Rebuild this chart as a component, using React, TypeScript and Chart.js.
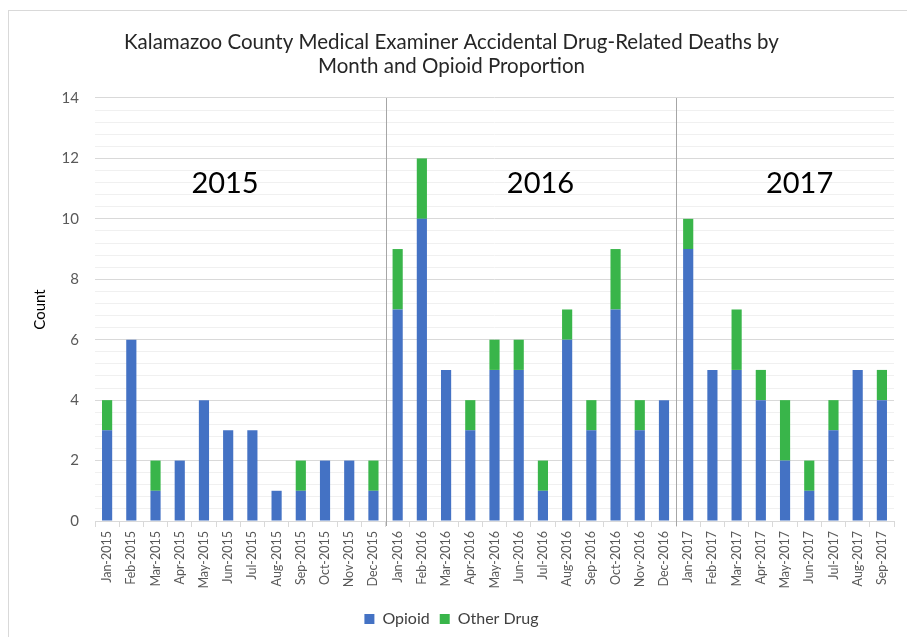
import React, { useEffect, useRef } from "react";
import { Chart, registerables } from "chart.js";

Chart.register(...registerables);

const months = [
  "Jan-2015", "Feb-2015", "Mar-2015", "Apr-2015", "May-2015", "Jun-2015",
  "Jul-2015", "Aug-2015", "Sep-2015", "Oct-2015", "Nov-2015", "Dec-2015",
  "Jan-2016", "Feb-2016", "Mar-2016", "Apr-2016", "May-2016", "Jun-2016",
  "Jul-2016", "Aug-2016", "Sep-2016", "Oct-2016", "Nov-2016", "Dec-2016",
  "Jan-2017", "Feb-2017", "Mar-2017", "Apr-2017", "May-2017", "Jun-2017",
  "Jul-2017", "Aug-2017", "Sep-2017",
];

const opioid = [
  3, 6, 1, 2, 4, 3, 3, 1, 1, 2, 2, 1,
  7, 10, 5, 3, 5, 5, 1, 6, 3, 7, 3, 4,
  9, 5, 5, 4, 2, 1, 3, 5, 4,
];

const otherDrug = [
  1, 0, 1, 0, 0, 0, 0, 0, 1, 0, 0, 1,
  2, 2, 0, 1, 1, 1, 1, 1, 1, 2, 1, 0,
  1, 0, 2, 1, 2, 1, 1, 0, 1,
];

const yearLabels = ["2015", "2016", "2017"];

const yTickLabels = ["0", "2", "4", "6", "8", "10", "12", "14"];

const FONT = "Lato, 'Open Sans', sans-serif";

const isMajor = (v: number) => Math.abs(v / 2 - Math.round(v / 2)) < 1e-6;

const overlayPlugin = {
  id: "yearOverlay",
  afterDatasetsDraw(chart: any, _args: any, opts: any) {
    const { ctx, chartArea, scales } = chart;
    const x = scales.x;
    const y = scales.y;
    ctx.save();
    ctx.strokeStyle = opts.lineColor;
    ctx.lineWidth = 1;
    for (let i = 1; i < months.length; i++) {
      if (months[i].slice(-4) !== months[i - 1].slice(-4)) {
        const px = Math.round((x.getPixelForValue(i - 1) + x.getPixelForValue(i)) / 2) + 0.5;
        ctx.beginPath();
        ctx.moveTo(px, chartArea.top);
        ctx.lineTo(px, chartArea.bottom + 5);
        ctx.stroke();
      }
    }
    ctx.fillStyle = opts.textColor;
    ctx.font = opts.font;
    ctx.textAlign = "center";
    ctx.textBaseline = "middle";
    (opts.items || []).forEach((it: any) => {
      const px = x.getPixelForValue(0) + (x.getPixelForValue(1) - x.getPixelForValue(0)) * it.at;
      ctx.fillText(it.text, px, y.getPixelForValue(it.level));
    });
    ctx.restore();
  },
};

export default function App() {
  const ref = useRef<HTMLCanvasElement | null>(null);

  useEffect(() => {
    if (!ref.current) return;
    const chart = new Chart(ref.current, {
      type: "bar",
      data: {
        labels: months,
        datasets: [
          {
            label: "Opioid",
            data: opioid,
            backgroundColor: "#4472C4",
            borderWidth: 0,
            categoryPercentage: 1,
            barPercentage: 0.42,
          },
          {
            label: "Other Drug",
            data: otherDrug,
            backgroundColor: "#39B54A",
            borderWidth: 0,
            categoryPercentage: 1,
            barPercentage: 0.42,
          },
        ],
      },
      plugins: [overlayPlugin],
      options: {
        animation: false,
        responsive: false,
        devicePixelRatio: 1,
        layout: { padding: { left: 0, right: 13, top: 0, bottom: 0 } },
        plugins: {
          title: {
            display: true,
            text: [
              "Kalamazoo County Medical Examiner Accidental Drug-Related Deaths by",
              "Month and Opioid Proportion",
            ],
            color: "#262626",
            font: { family: FONT, size: 20.5, weight: "normal", lineHeight: 1.17 },
            padding: { top: 19, bottom: 20 },
          },
          legend: {
            position: "bottom",
            labels: {
              boxWidth: 10,
              boxHeight: 10,
              color: "#404040",
              font: { family: FONT, size: 16 },
              padding: 10,
            },
          },
          tooltip: { enabled: false },
          yearOverlay: {
            lineColor: "#a6a6a6",
            textColor: "#000000",
            font: `29px ${FONT}`,
            items: [
              { text: yearLabels[0], at: 4.87, level: 11.15 },
              { text: yearLabels[1], at: 17.9, level: 11.15 },
              { text: yearLabels[2], at: 28.6, level: 11.15 },
            ],
          },
        } as any,
        scales: {
          x: {
            stacked: true,
            offset: true,
            grid: {
              offset: true,
              drawOnChartArea: false,
              drawTicks: true,
              tickLength: 6,
              color: "#d9d9d9",
            },
            border: { display: true, color: "#d9d9d9" },
            ticks: {
              autoSkip: false,
              maxRotation: 90,
              minRotation: 90,
              color: "#595959",
              padding: 4,
              font: { family: FONT, size: 12.5 },
            },
            afterFit: (s: any) => {
              s.height = 80;
            },
          },
          y: {
            stacked: true,
            min: 0,
            max: 14,
            border: { display: false },
            grid: {
              drawTicks: false,
              color: (c: any) => (isMajor(c.tick.value) ? "#d9d9d9" : "#f0f0f0"),
            },
            ticks: {
              stepSize: 0.4,
              autoSkip: false,
              padding: 16,
              color: "#595959",
              font: { family: FONT, size: 15 },
              callback: (v: any) => {
                const n = Number(v);
                if (!isMajor(n)) return "";
                const idx = Math.round(n / 2);
                return yTickLabels[idx] ?? "";
              },
            },
            title: {
              display: true,
              text: "Count",
              color: "#000000",
              font: { family: FONT, size: 15 },
              padding: { top: 22, bottom: 0 },
            },
            afterFit: (s: any) => {
              s.width = 86;
            },
          },
        },
      },
    });
    return () => chart.destroy();
  }, []);

  return (
    <div
      style={{
        marginTop: 2,
        width: 898,
        height: 640,
        border: "1px solid #d9d9d9",
        overflow: "hidden",
        background: "#ffffff",
      }}
    >
      <canvas ref={ref} width={898} height={626} style={{ display: "block" }} />
    </div>
  );
}
